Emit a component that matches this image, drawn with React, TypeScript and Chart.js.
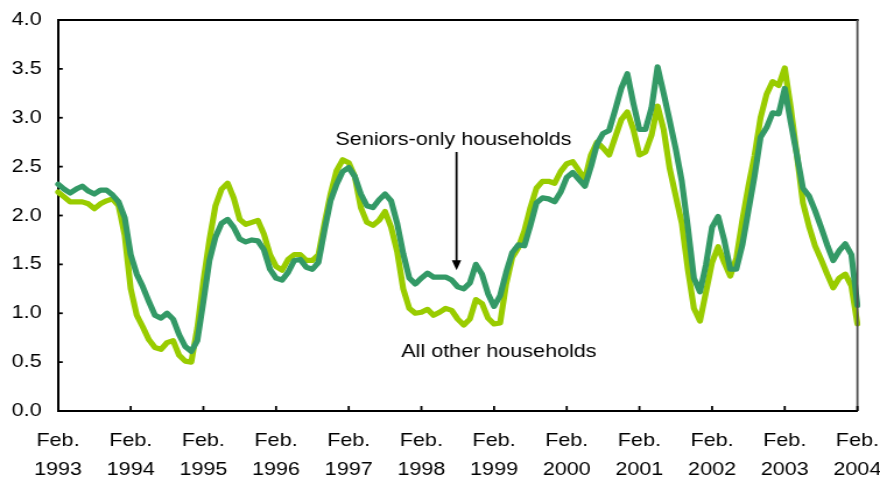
import React, { useEffect, useRef } from 'react';
import { Chart, registerables } from 'chart.js';

Chart.register(...registerables);

// ---- data ----
const MONTH_NAMES = ['Jan.', 'Feb.', 'Mar.', 'Apr.', 'May', 'Jun.', 'Jul.', 'Aug.', 'Sep.', 'Oct.', 'Nov.', 'Dec.'];
const FIRST_YEAR = 1993;
const MONTH_COUNT = 133; // Feb. 1993 .. Feb. 2004, monthly

const categories: string[] = [];
for (let i = 0; i < MONTH_COUNT; i++) {
  const m = (1 + i) % 12;
  const yr = FIRST_YEAR + Math.floor((1 + i) / 12);
  categories.push(`${MONTH_NAMES[m]} ${yr}`);
}

const tickYears = ['1993', '1994', '1995', '1996', '1997', '1998', '1999', '2000', '2001', '2002', '2003', '2004'];
const tickMonth = 'Feb.';
const yTicks = [0, 0.5, 1, 1.5, 2, 2.5, 3, 3.5, 4];

const seniorsOnly = [
  2.32, 2.27, 2.23, 2.27, 2.30, 2.25, 2.22, 2.26, 2.26, 2.21, 2.14, 1.98,
  1.60, 1.40, 1.27, 1.12, 0.98, 0.95, 1.00, 0.94, 0.78, 0.66, 0.61, 0.72,
  1.12, 1.54, 1.78, 1.92, 1.96, 1.88, 1.76, 1.73, 1.75, 1.74, 1.65, 1.45,
  1.36, 1.34, 1.42, 1.54, 1.55, 1.47, 1.45, 1.52, 1.85, 2.15, 2.32, 2.45,
  2.49, 2.40, 2.22, 2.10, 2.08, 2.16, 2.22, 2.15, 1.92, 1.61, 1.36, 1.30,
  1.36, 1.41, 1.37, 1.37, 1.37, 1.34, 1.27, 1.25, 1.31, 1.50, 1.40, 1.20,
  1.07, 1.18, 1.42, 1.62, 1.70, 1.69, 1.90, 2.13, 2.18, 2.17, 2.14, 2.24,
  2.39, 2.44, 2.37, 2.30, 2.50, 2.73, 2.84, 2.87, 3.08, 3.30, 3.45, 3.15,
  2.88, 2.88, 3.10, 3.52, 3.25, 2.97, 2.68, 2.35, 1.88, 1.36, 1.22, 1.50,
  1.88, 1.99, 1.75, 1.45, 1.45, 1.70, 2.05, 2.40, 2.80, 2.90, 3.05, 3.04,
  3.30, 2.95, 2.62, 2.28, 2.20, 2.05, 1.88, 1.70, 1.54, 1.64, 1.71, 1.60,
  1.08,
];

const allOther = [
  2.24, 2.19, 2.14, 2.14, 2.14, 2.12, 2.07, 2.12, 2.15, 2.17, 2.10, 1.80,
  1.25, 0.98, 0.86, 0.73, 0.65, 0.63, 0.70, 0.72, 0.57, 0.51, 0.50, 0.85,
  1.33, 1.75, 2.10, 2.27, 2.33, 2.18, 1.96, 1.91, 1.93, 1.95, 1.81, 1.60,
  1.48, 1.44, 1.55, 1.60, 1.60, 1.54, 1.54, 1.60, 1.92, 2.22, 2.46, 2.57,
  2.54, 2.40, 2.08, 1.93, 1.90, 1.95, 2.04, 1.88, 1.63, 1.25, 1.05, 1.00,
  1.01, 1.04, 0.98, 1.01, 1.05, 1.03, 0.94, 0.88, 0.94, 1.14, 1.10, 0.95,
  0.89, 0.90, 1.30, 1.57, 1.67, 1.84, 2.08, 2.28, 2.35, 2.35, 2.33, 2.45,
  2.53, 2.55, 2.46, 2.37, 2.62, 2.75, 2.69, 2.62, 2.80, 2.98, 3.06, 2.88,
  2.62, 2.65, 2.82, 3.12, 2.88, 2.48, 2.20, 1.92, 1.45, 1.05, 0.92, 1.22,
  1.52, 1.68, 1.52, 1.38, 1.56, 1.95, 2.30, 2.61, 3.00, 3.24, 3.37, 3.33,
  3.51, 3.10, 2.62, 2.13, 1.89, 1.69, 1.55, 1.40, 1.26, 1.36, 1.40, 1.28,
  0.89,
];

// annotation anchors in data units (month index, value)
const seniorsNote = { text: 'Seniors-only households', at: 65.3, value: 2.77 };
const otherNote = { text: 'All other households', at: 72.8, value: 0.6 };
const arrowNote = { at: 65.8, from: 2.65, to: 1.44 };

// ---- layout / style ----
const W = 880;
const H = 484;
const STRETCH = 1.165;
const IW = Math.round(W / STRETCH);
const FONT_FAMILY = '"Liberation Sans", Arial, Helvetica, sans-serif';
const FONT_SIZE = 18.5;
const DARK = '#339966';
const LIME = '#99CC00';

function seg(ctx: CanvasRenderingContext2D, x0: number, y0: number, x1: number, y1: number) {
  ctx.beginPath();
  ctx.moveTo(x0, y0);
  ctx.lineTo(x1, y1);
  ctx.stroke();
}

const framePlugin = {
  id: 'frameAndNotes',
  afterDraw(chart: any) {
    const ctx: CanvasRenderingContext2D = chart.ctx;
    const { left, right, top, bottom } = chart.chartArea;
    const x = chart.scales.x;
    const y = chart.scales.y;
    ctx.save();
    ctx.lineCap = 'butt';
    // top border
    ctx.strokeStyle = '#000000';
    ctx.lineWidth = 2;
    seg(ctx, left, top, right + 1, top);
    // right border
    ctx.strokeStyle = '#4d4d4d';
    ctx.lineWidth = 1.8;
    seg(ctx, right, top, right, bottom);
    // inward y ticks
    ctx.strokeStyle = '#000000';
    ctx.lineWidth = 1.8;
    yTicks.forEach((v) => {
      const py = y.getPixelForValue(v);
      seg(ctx, left, py, left + 4, py);
    });
    // inward x ticks at each February
    for (let i = 12; i < categories.length; i += 12) {
      const px = x.getPixelForValue(i);
      seg(ctx, px, bottom, px, bottom - 5);
    }
    // notes
    ctx.fillStyle = '#000000';
    ctx.font = `${FONT_SIZE}px ${FONT_FAMILY}`;
    ctx.textAlign = 'center';
    ctx.textBaseline = 'middle';
    ctx.fillText(seniorsNote.text, x.getPixelForValue(seniorsNote.at), y.getPixelForValue(seniorsNote.value));
    ctx.fillText(otherNote.text, x.getPixelForValue(otherNote.at), y.getPixelForValue(otherNote.value));
    // arrow
    const ax = x.getPixelForValue(arrowNote.at);
    const ay0 = y.getPixelForValue(arrowNote.from);
    const ay1 = y.getPixelForValue(arrowNote.to);
    ctx.lineWidth = 1.8;
    seg(ctx, ax, ay0, ax, ay1 - 8);
    ctx.beginPath();
    ctx.moveTo(ax, ay1);
    ctx.lineTo(ax - 4, ay1 - 10);
    ctx.lineTo(ax + 4, ay1 - 10);
    ctx.closePath();
    ctx.fill();
    ctx.restore();
  },
};

export default function App() {
  const ref = useRef<HTMLCanvasElement>(null);
  useEffect(() => {
    document.body.style.margin = '0';
    const canvas = ref.current;
    if (!canvas) return;
    const chart = new Chart(canvas, {
      type: 'line',
      data: {
        labels: categories,
        datasets: [
          {
            label: 'Seniors-only households',
            data: seniorsOnly,
            borderColor: DARK,
            backgroundColor: DARK,
            borderWidth: 5.2,
            pointRadius: 0,
            tension: 0,
            borderJoinStyle: 'round',
            borderCapStyle: 'round',
          },
          {
            label: 'All other households',
            data: allOther,
            borderColor: LIME,
            backgroundColor: LIME,
            borderWidth: 5.2,
            pointRadius: 0,
            tension: 0,
            borderJoinStyle: 'round',
            borderCapStyle: 'round',
          },
        ],
      },
      options: {
        animation: false,
        responsive: false,
        devicePixelRatio: 1,
        events: [],
        layout: { padding: { top: 20, right: IW - 857 / STRETCH, left: 0, bottom: 0 } },
        plugins: { legend: { display: false }, tooltip: { enabled: false } },
        scales: {
          x: {
            type: 'category',
            offset: false,
            grid: { display: false, drawTicks: false },
            border: { display: true, color: '#000', width: 2 },
            ticks: {
              autoSkip: false,
              maxRotation: 0,
              minRotation: 0,
              padding: 15,
              color: '#000',
              font: { family: FONT_FAMILY, size: FONT_SIZE, lineHeight: 29 / FONT_SIZE },
              callback: (_v: any, index: number) =>
                index % 12 === 0 ? [tickMonth, tickYears[index / 12]] : null,
            },
            afterFit: (scale: any) => {
              scale.height = H - 411;
              scale.paddingLeft = 0;
              scale.paddingRight = 0;
            },
          },
          y: {
            min: 0,
            max: 4,
            grid: { display: false, drawTicks: false },
            border: { display: true, color: '#000', width: 2 },
            ticks: {
              stepSize: 0.5,
              padding: 14,
              color: '#000',
              font: { family: FONT_FAMILY, size: FONT_SIZE },
              callback: (v: any) => Number(v).toFixed(1),
            },
            afterFit: (scale: any) => {
              scale.width = 58 / STRETCH;
              scale.paddingTop = 0;
              scale.paddingBottom = 0;
            },
          },
        },
      },
      plugins: [framePlugin],
    } as any);
    return () => chart.destroy();
  }, []);
  return (
    <div style={{ position: 'fixed', left: 0, top: 0, width: W, height: H, background: '#fff' }}>
      <canvas ref={ref} width={IW} height={H} style={{ width: `${W}px`, height: `${H}px`, display: 'block' }} />
    </div>
  );
}
